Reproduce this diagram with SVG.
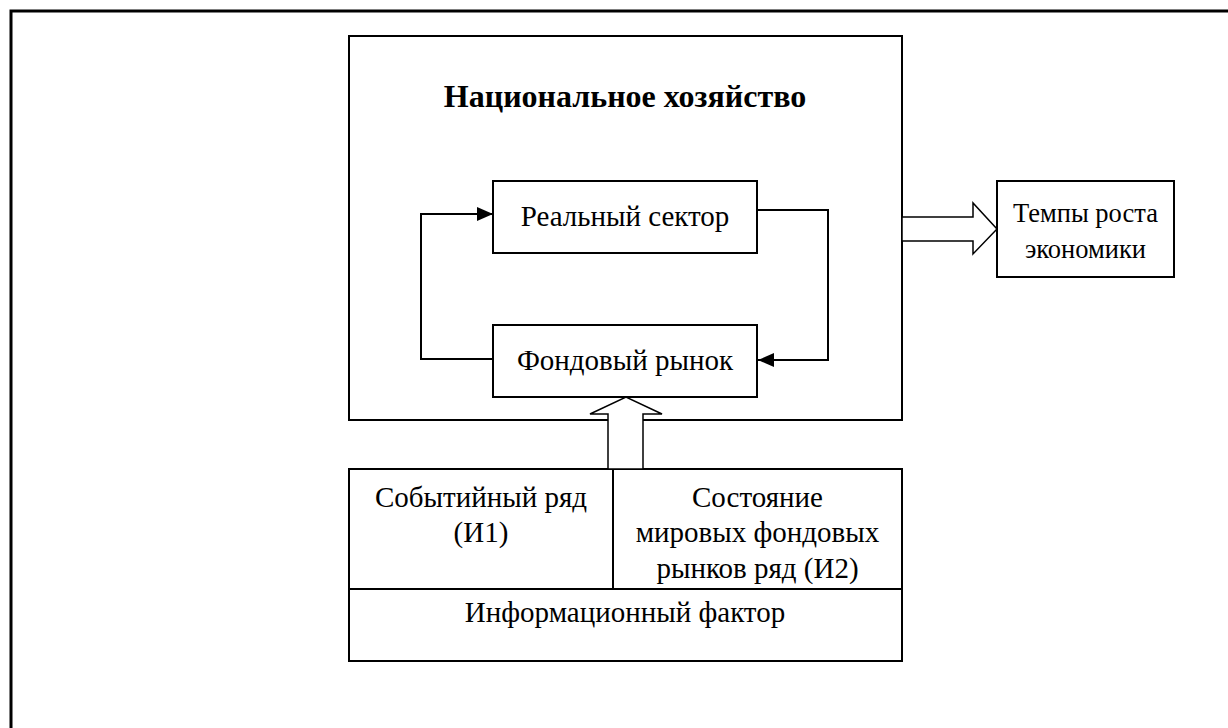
<svg xmlns="http://www.w3.org/2000/svg" width="1228" height="728" viewBox="0 0 1228 728">
<style>
.box{fill:#fff;stroke:#000;stroke-width:2}
.ln{fill:none;stroke:#000;stroke-width:2}
.blk{fill:#fff;stroke:#000;stroke-width:1.5}
text{font-family:"Liberation Serif","Times New Roman",serif;font-size:29px;fill:#000;text-anchor:middle}
.b{font-weight:bold;font-size:32px}
.s{font-size:26.5px}
</style>
<defs>
<marker id="ah" markerWidth="16" markerHeight="14" refX="16" refY="7" orient="auto" markerUnits="userSpaceOnUse">
<path d="M0,0 L16,7 L0,14 Z" fill="#000"/>
</marker>
</defs>
<rect x="0" y="0" width="1228" height="728" fill="#fff"/>
<path d="M11,728 V11 H1228" fill="none" stroke="#000" stroke-width="3"/>
<g id="national">
<rect class="box" x="349" y="36" width="553" height="384"/>
<text class="b" x="625" y="107">Национальное хозяйство</text>
</g>
<g id="real">
<rect class="box" x="493" y="181" width="264" height="72"/>
<text x="625" y="226">Реальный сектор</text>
</g>
<g id="stock">
<rect class="box" x="493" y="325" width="264" height="72"/>
<text x="625" y="370">Фондовый рынок</text>
</g>
<g id="growth">
<rect class="box" x="997" y="181" width="177" height="96"/>
<text class="s" x="1085.5" y="222">Темпы роста</text>
<text class="s" x="1085.5" y="258">экономики</text>
</g>
<g id="info">
<rect class="box" x="349" y="469" width="553" height="192"/>
<line class="ln" x1="349" y1="589" x2="902" y2="589"/>
<line class="ln" x1="613" y1="469" x2="613" y2="589"/>
<text x="481" y="507">Событийный ряд</text>
<text x="481" y="542">(И1)</text>
<text x="757.5" y="507">Состояние</text>
<text x="757.5" y="542">мировых фондовых</text>
<text x="757.5" y="578">рынков ряд (И2)</text>
<text x="625" y="622">Информационный фактор</text>
</g>
<g id="connectors">
<polyline class="ln" points="493,359 421,359 421,214 493,214" marker-end="url(#ah)"/>
<polyline class="ln" points="757,210 828,210 828,360 758,360" marker-end="url(#ah)"/>
<polygon class="blk" points="608,469 608,414 590,414 626,397 662,414 643,414 643,469"/>
<polygon class="blk" points="902,217 973,217 973,203 997,229 973,254 973,241 902,241"/>
</g>
</svg>
